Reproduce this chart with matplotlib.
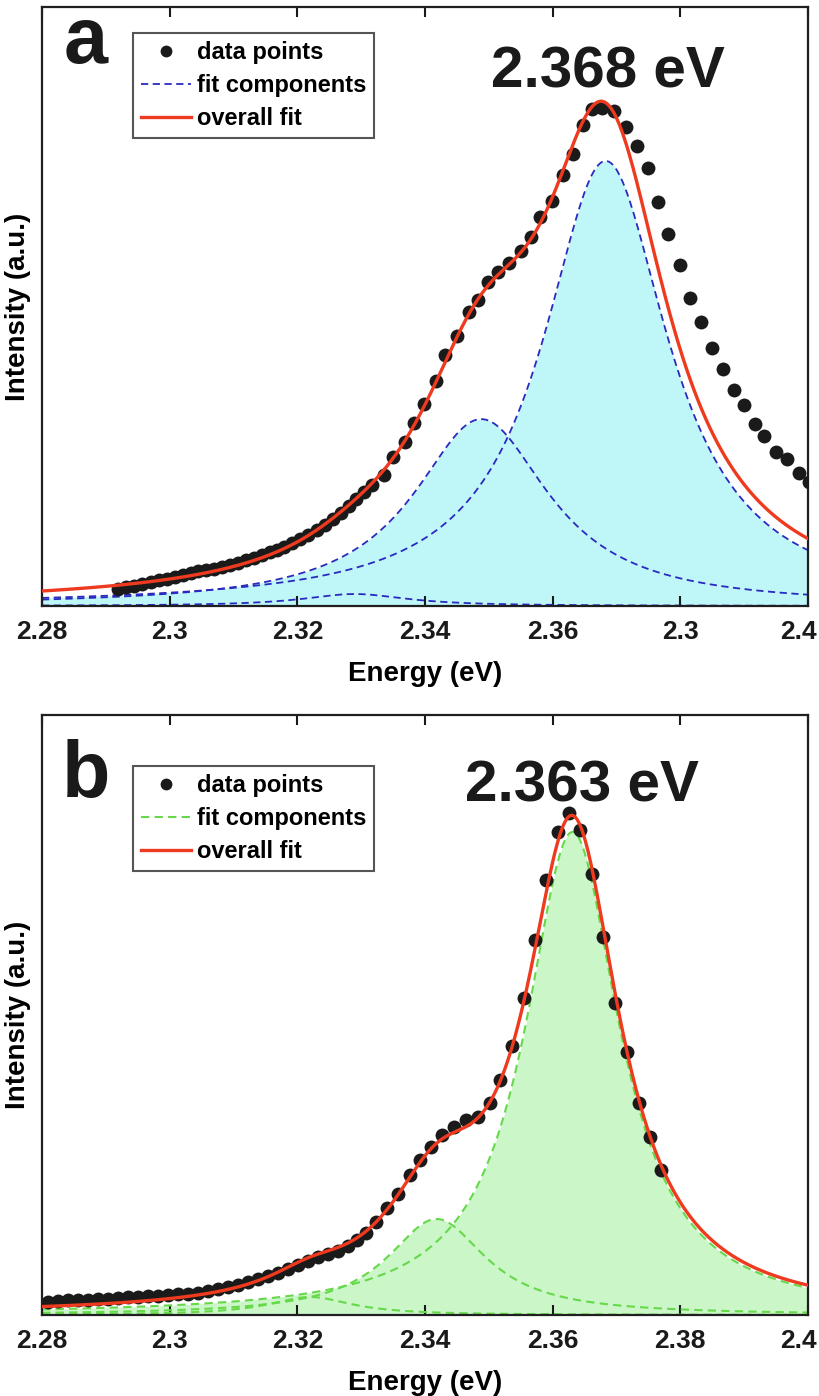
import numpy as np
import matplotlib
matplotlib.use("Agg")
import matplotlib.pyplot as plt
import matplotlib.transforms as mtransforms

plt.rcParams['font.family'] = ['Liberation Sans', 'DejaVu Sans']
plt.rcParams['font.weight'] = 'bold'

# ---------------- Panel a data ----------------
a_energy = [2.29191, 2.29316, 2.29441, 2.29567, 2.29708, 2.29833, 2.29958, 2.30084, 2.30209, 2.30334,
            2.30444, 2.30569, 2.30694, 2.30820, 2.30945, 2.31070, 2.31196, 2.31321, 2.31446, 2.31572,
            2.31681, 2.31791, 2.31916, 2.32042, 2.32167, 2.32308, 2.32433, 2.32559, 2.32684, 2.32809,
            2.32919, 2.33044, 2.33165, 2.33351, 2.33499, 2.33687, 2.33828, 2.33984, 2.34172, 2.34313,
            2.34501, 2.34689, 2.34838, 2.34987, 2.35136, 2.35316, 2.35504, 2.35656, 2.35802, 2.35990,
            2.36162, 2.36319, 2.36476, 2.36617, 2.36770, 2.36956, 2.37141, 2.37327, 2.37490, 2.37647,
            2.37807, 2.37995, 2.38159, 2.38316, 2.38496, 2.38665, 2.38836, 2.38997, 2.39170, 2.39318,
            2.39505, 2.39668, 2.39854, 2.40016]
a_intensity = [0.0284, 0.0309, 0.0334, 0.0359, 0.0401, 0.0426, 0.0459, 0.0484, 0.0518, 0.0551,
               0.0576, 0.0601, 0.0626, 0.0659, 0.0685, 0.0718, 0.0760, 0.0801, 0.0851, 0.0902,
               0.0943, 0.0985, 0.1052, 0.1119, 0.1185, 0.1269, 0.1352, 0.1452, 0.1553, 0.1669,
               0.1786, 0.1903, 0.2020, 0.2194, 0.2487, 0.2738, 0.3055, 0.3379, 0.3756, 0.4190,
               0.4508, 0.4908, 0.5109, 0.5401, 0.5576, 0.5726, 0.5927, 0.6152, 0.6494, 0.6761,
               0.7195, 0.7546, 0.8030, 0.8297, 0.8314, 0.8264, 0.7997, 0.7679, 0.7312, 0.6745,
               0.6210, 0.5693, 0.5142, 0.4741, 0.4307, 0.3957, 0.3606, 0.3356, 0.3038, 0.2830,
               0.2571, 0.2454, 0.2220, 0.2078]
# fit components (Lorentzian): centre (eV), amplitude, half width (eV)
a_centers = [2.3683, 2.3488, 2.3290]
a_amps = [0.743, 0.312, 0.020]
a_widths = [0.0120, 0.0130, 0.0100]
a_ticklabels = ['2.28', '2.3', '2.32', '2.34', '2.36', '2.3', '2.4']

# ---------------- Panel b data ----------------
b_energy = [2.28094, 2.28251, 2.28407, 2.28564, 2.28721, 2.28877, 2.29034, 2.29191, 2.29347, 2.29504,
            2.29661, 2.29817, 2.29974, 2.30131, 2.30287, 2.30444, 2.30601, 2.30758, 2.30914, 2.31071,
            2.31228, 2.31384, 2.31541, 2.31698, 2.31854, 2.32011, 2.32168, 2.32324, 2.32481, 2.32637,
            2.32794, 2.32935, 2.33076, 2.33232, 2.33405, 2.33577, 2.33765, 2.33922, 2.34094, 2.34266,
            2.34454, 2.34642, 2.34830, 2.35018, 2.35175, 2.35363, 2.35551, 2.35723, 2.35896, 2.36084,
            2.36256, 2.36428, 2.36616, 2.36796, 2.36976, 2.37164, 2.37345, 2.37517, 2.37697]
b_intensity = [0.0225, 0.0233, 0.0242, 0.0250, 0.0258, 0.0267, 0.0275, 0.0283, 0.0292, 0.0300,
               0.0317, 0.0325, 0.0333, 0.0350, 0.0358, 0.0375, 0.0400, 0.0433, 0.0467, 0.0508,
               0.0550, 0.0600, 0.0650, 0.0708, 0.0767, 0.0833, 0.0900, 0.0967, 0.1017, 0.1075,
               0.1158, 0.1250, 0.1367, 0.1550, 0.1783, 0.2017, 0.2333, 0.2583, 0.2800, 0.3000,
               0.3133, 0.3250, 0.3308, 0.3538, 0.3917, 0.4488, 0.5283, 0.6250, 0.7250, 0.8055,
               0.8362, 0.8083, 0.7350, 0.6300, 0.5205, 0.4383, 0.3533, 0.2972, 0.2417]
b_centers = [2.3631, 2.3418, 2.3220]
b_amps = [0.805, 0.160, 0.030]
b_widths = [0.0090, 0.0095, 0.0080]
b_ticklabels = ['2.28', '2.3', '2.32', '2.34', '2.36', '2.38', '2.4']

tick_positions = [2.28, 2.30, 2.32, 2.34, 2.36, 2.38, 2.40]

W, H = 820, 1396
fig = plt.figure(figsize=(W / 100, H / 100), dpi=100)


def fx(px):
    return px / W


def fy(py):
    return 1 - py / H


def lorentz(x, c, a, w):
    return a / (1 + ((x - c) / w) ** 2)


def panel(top, bottom, energy, inten, centers, amps, widths, ticklabels,
          fillc, dashc, dash, dash_lw, letter, letter_y, peak_text, peak_x, peak_y, legend_top):
    ax = fig.add_axes([fx(42), fy(bottom), fx(808) - fx(42), fy(top) - fy(bottom)])
    xs = np.linspace(2.28, 2.40, 600)
    comps = [lorentz(xs, c, a, w) for c, a, w in zip(centers, amps, widths)]
    for comp in comps:
        ax.fill_between(xs, 0, comp, color=fillc, lw=0, zorder=1)
    for i, comp in enumerate(comps):
        ax.plot(xs, comp, color=dashc, lw=dash_lw, linestyle=dash, zorder=2,
                label='fit components' if i == 0 else None)
    ax.plot(energy, inten, 'o', color='#1a1a1a', ms=10, zorder=3, label='data points',
            markeredgewidth=0)
    ax.plot(xs, np.sum(comps, axis=0), color='#EE3A1E', lw=2.4, zorder=4, label='overall fit')
    ax.set_xlim(2.28, 2.40)
    ax.set_ylim(0, 1)
    ax.set_yticks([])
    ax.set_xticks(tick_positions)
    ax.set_xticklabels(ticklabels)
    ax.tick_params(axis='x', direction='in', length=7, width=1.5, top=True,
                   labelsize=19, pad=10, colors='#1a1a1a')
    for lab in ax.get_xticklabels():
        lab.set_fontweight('bold')
    last = ax.xaxis.get_major_ticks()[-1].label1
    last.set_transform(last.get_transform() +
                       mtransforms.ScaledTranslation(-0.1, 0, fig.dpi_scale_trans))
    for s in ax.spines.values():
        s.set_linewidth(1.6)
        s.set_color('#1f1f1f')
    ax.set_xlabel('Energy (eV)', fontsize=20, fontweight='bold', labelpad=12)
    ax.set_ylabel('Intensity (a.u.)', fontsize=20, fontweight='bold', labelpad=8)
    handles, labels = ax.get_legend_handles_labels()
    order = [labels.index('data points'), labels.index('fit components'), labels.index('overall fit')]
    leg = ax.legend([handles[i] for i in order], [labels[i] for i in order],
                    loc='upper left', bbox_to_anchor=(fx(133), fy(legend_top)),
                    bbox_transform=fig.transFigure, borderaxespad=0, fancybox=False,
                    framealpha=1, edgecolor='#555555', handlelength=2.1,
                    handletextpad=0.25, labelspacing=0.42, borderpad=0.35, markerscale=0.85,
                    prop={'weight': 'bold', 'size': 17})
    leg.get_frame().set_linewidth(1.5)
    fig.text(fx(86), fy(letter_y), letter, fontsize=57, fontweight='bold',
             ha='center', va='baseline', color='#1a1a1a')
    fig.text(fx(peak_x), fy(peak_y), peak_text, fontsize=42, fontweight='bold',
             ha='center', va='baseline', color='#1a1a1a')
    return ax


panel(7, 606, a_energy, a_intensity, a_centers, a_amps, a_widths, a_ticklabels,
      '#BFF6F8', '#2A2AC0', (0, (4, 2.5)), 1.3, 'a', 63, '2.368 eV', 608, 87, 33)
panel(715, 1315, b_energy, b_intensity, b_centers, b_amps, b_widths, b_ticklabels,
      '#CBF7C8', '#66D84A', (0, (4, 2.5)), 1.5, 'b', 797, '2.363 eV', 582, 802, 766)

fig.savefig('out.png', dpi=100)
